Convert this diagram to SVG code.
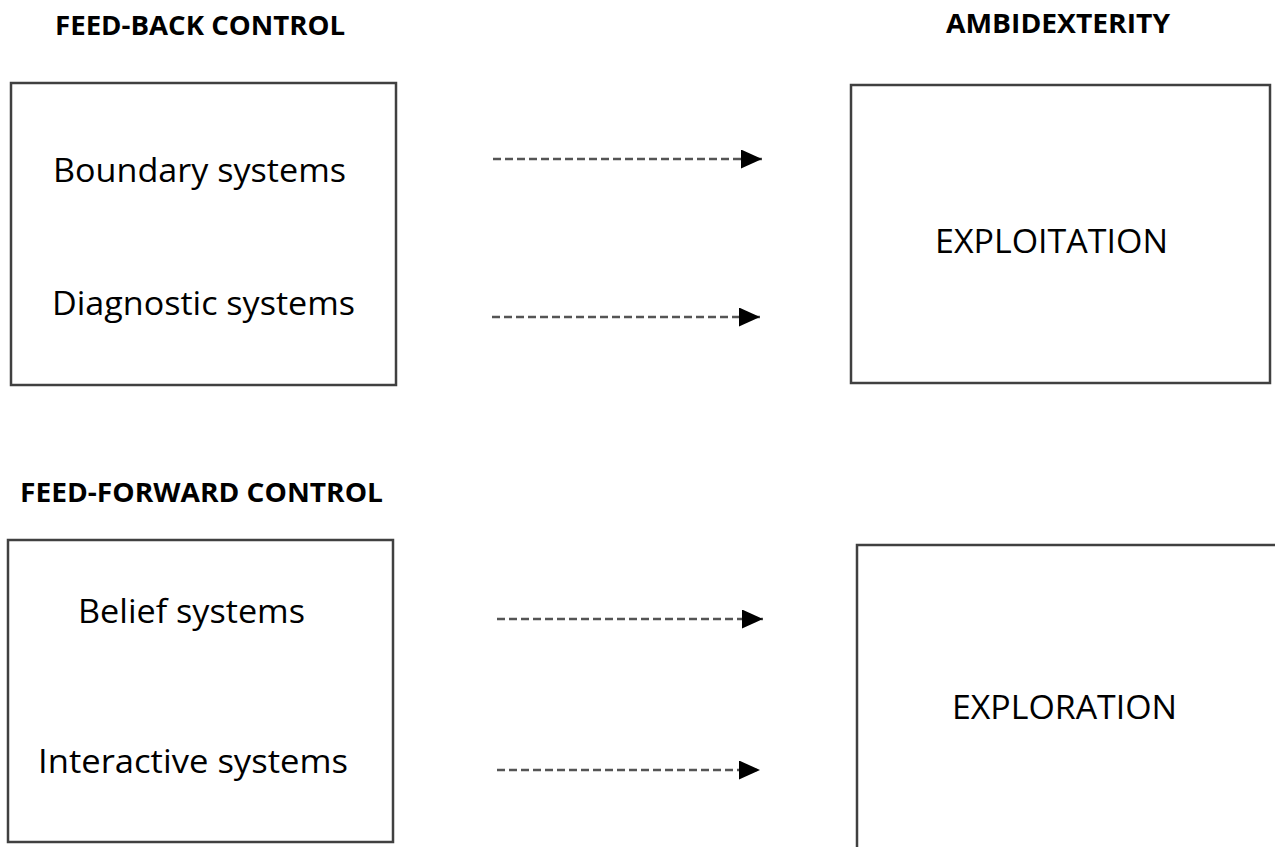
<svg xmlns="http://www.w3.org/2000/svg" width="1275" height="847" viewBox="0 0 1275 847">
<defs>
<style>
.box{fill:#fff;stroke:#404040;stroke-width:2.5}
.head{font-family:"Open Sans","Liberation Sans",sans-serif;font-weight:bold;font-size:26px;fill:#000}
.lbl{font-family:"Open Sans","Liberation Sans",sans-serif;font-size:32px;fill:#000}
.conn{stroke:#555;stroke-width:2.5;stroke-dasharray:8 4;fill:none}
</style>
<marker id="ah" markerWidth="21" markerHeight="19" refX="21" refY="9.5" orient="auto" markerUnits="userSpaceOnUse">
<path d="M0,0 L21,9.5 L0,19 Z" fill="#000"/>
</marker>
</defs>
<rect width="1275" height="847" fill="#fff"/>
<text class="head" x="55" y="35" textLength="290" lengthAdjust="spacingAndGlyphs">FEED-BACK CONTROL</text>
<text class="head" x="946" y="33" textLength="224" lengthAdjust="spacingAndGlyphs">AMBIDEXTERITY</text>
<text class="head" x="20" y="502" textLength="363" lengthAdjust="spacingAndGlyphs">FEED-FORWARD CONTROL</text>
<g id="feedback">
<rect class="box" x="11" y="83" width="385" height="302"/>
<text class="lbl" x="53" y="182" textLength="293" lengthAdjust="spacingAndGlyphs">Boundary systems</text>
<text class="lbl" x="52" y="315" textLength="303" lengthAdjust="spacingAndGlyphs">Diagnostic systems</text>
</g>
<g id="exploitation">
<rect class="box" x="851" y="85" width="419" height="298"/>
<text class="lbl" x="935" y="253" textLength="233" lengthAdjust="spacingAndGlyphs">EXPLOITATION</text>
</g>
<g id="feedforward">
<rect class="box" x="8" y="540" width="385" height="302"/>
<text class="lbl" x="78" y="623" textLength="227" lengthAdjust="spacingAndGlyphs">Belief systems</text>
<text class="lbl" x="38" y="773" textLength="310" lengthAdjust="spacingAndGlyphs">Interactive systems</text>
</g>
<g id="exploration">
<rect class="box" x="857" y="545" width="430" height="320"/>
<text class="lbl" x="952" y="719" textLength="225" lengthAdjust="spacingAndGlyphs">EXPLORATION</text>
</g>
<g id="connectors">
<line class="conn" x1="493" y1="159" x2="762" y2="159" marker-end="url(#ah)"/>
<line class="conn" x1="492" y1="317" x2="760" y2="317" marker-end="url(#ah)"/>
<line class="conn" x1="497" y1="619" x2="763" y2="619" marker-end="url(#ah)"/>
<line class="conn" x1="497" y1="770" x2="760" y2="770" marker-end="url(#ah)"/>
</g>
</svg>
